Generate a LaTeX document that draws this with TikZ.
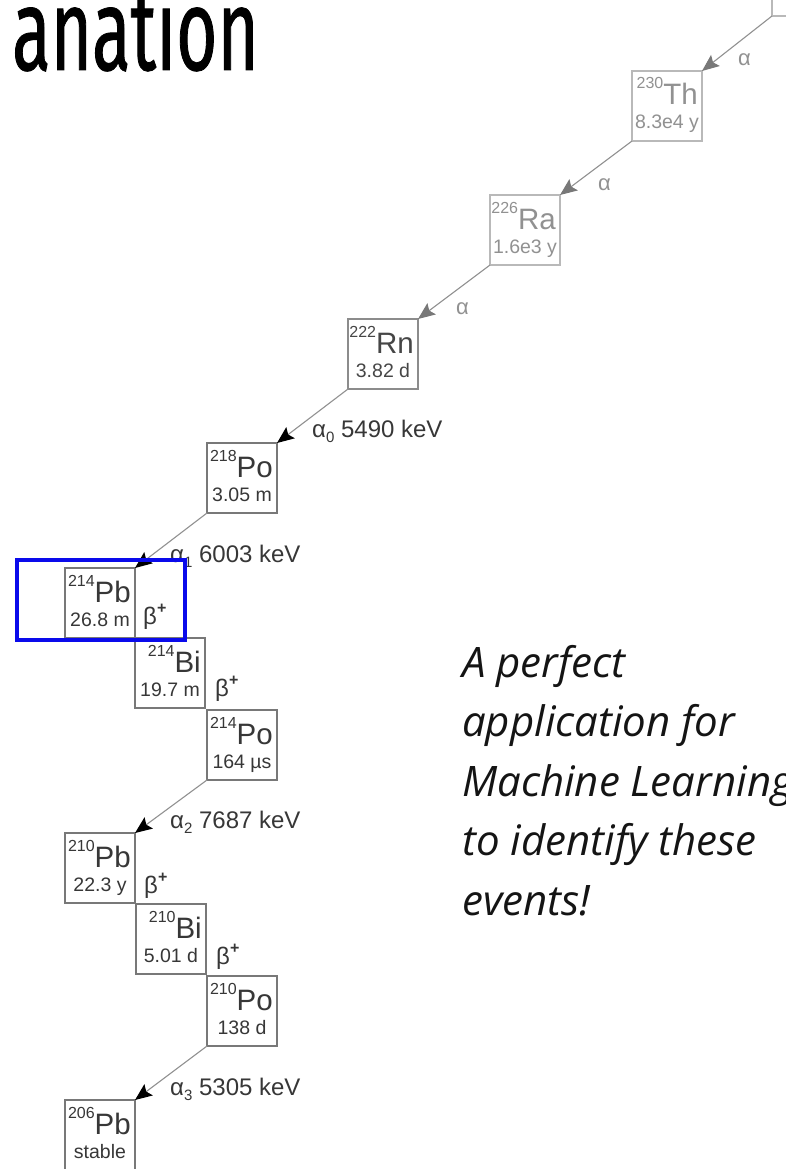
\documentclass[tikz,border=0pt]{standalone}
\usepackage{fontspec}
\usepackage{graphicx}
\setmainfont{Liberation Sans}
\newfontfamily\titlefont[FakeStretch=0.61,FakeBold=0.7]{Fira Sans}
\newfontfamily\notefont{Open Sans}
\usetikzlibrary{arrows.meta,calc}
\definecolor{fadebox}{RGB}{185,185,185}
\definecolor{fadetext}{RGB}{145,145,145}
\definecolor{fadehead}{RGB}{120,120,120}
\definecolor{midbox}{RGB}{140,140,140}
\definecolor{midtext}{RGB}{70,70,70}
\definecolor{normbox}{RGB}{120,120,120}
\definecolor{normtext}{RGB}{55,55,55}
\definecolor{linegray}{RGB}{145,145,145}
\definecolor{hlblue}{RGB}{10,10,235}
\tikzset{
  nucbox/.style={line width=1.3pt, minimum width=70pt, minimum height=70pt,
    inner sep=0pt, outer sep=0pt, anchor=north west},
  fadebox/.style={draw=fadebox},
  midbox/.style={draw=midbox},
  normbox/.style={draw=normbox},
  fadetext/.style={text=fadetext},
  midtext/.style={text=midtext},
  normtext/.style={text=normtext},
  symtext/.style={inner sep=0pt, font=\fontsize{29.5}{29.5}\selectfont},
  halftext/.style={inner sep=0pt, font=\fontsize{19.5}{19.5}\selectfont},
  decay/.style={draw=linegray, line width=1.1pt},
  fadearrow/.style={decay, -{Stealth[length=17pt,width=14pt,inset=3pt,color=fadehead]}},
  normarrow/.style={decay, -{Stealth[length=17pt,width=14pt,inset=3pt,color=black]}},
  alabel/.style={inner sep=0pt, font=\fontsize{24}{24}\selectfont, text=normtext, anchor=base west},
  falabel/.style={inner sep=0pt, font=\fontsize{22}{22}\selectfont, text=fadetext, anchor=base west},
  blabel/.style={inner sep=0pt, font=\fontsize{24}{24}\selectfont, text=normtext, anchor=base west},
  notetext/.style={inner sep=0pt, font=\notefont\itshape\fontsize{42}{59.5}\selectfont,
    align=left, text=black!92, anchor=base west},
  titletext/.style={inner sep=0pt, font=\titlefont\fontsize{116}{116}\selectfont, text=black, anchor=base west},
  highlight/.style={draw=hlblue, line width=3.5pt, minimum width=168pt, minimum height=80pt,
    inner sep=0pt, outer sep=0pt, anchor=north west}
}
\newcommand\nuc[7]{%
  \node[nucbox,#7box] (#1) at (#2,#3) {};
  \node[symtext,#7text,anchor=base east] (#1-sym) at ($(#1.north east)+(-4,34)$)
    {\raisebox{16pt}{\fontsize{16}{16}\selectfont #4}#5};
  \node[halftext,#7text,anchor=base] (#1-half) at ($(#1.north)+(0,58)$) {#6};
}
\newcommand\sub[1]{\raisebox{-5pt}{\fontsize{15}{15}\selectfont #1}}
\newcommand\bplus{β\raisebox{11pt}{\fontsize{16}{16}\selectfont\bfseries +}}
\begin{document}
\begin{tikzpicture}[x=1pt,y=-1pt]
\useasboundingbox[fill=white] (0,0) rectangle (786,1169);
% title
\node[titletext] (title) at (12,70) {anation};
% nuclides
\node[nucbox,fadebox] (u234) at (772,-54) {};
\nuc{th230}{632}{71}{230}{Th}{8.3e4 y}{fade}
\nuc{ra226}{490}{195}{226}{Ra}{1.6e3 y}{fade}
\nuc{rn222}{348}{319}{222}{Rn}{3.82 d}{mid}
\nuc{po218}{207}{443}{218}{Po}{3.05 m}{norm}
\nuc{pb214}{65}{568}{214}{Pb}{26.8 m}{norm}
\nuc{bi214}{135}{638}{214}{Bi}{19.7 m}{norm}
\nuc{po214}{207}{710}{214}{Po}{164 µs}{norm}
\nuc{pb210}{65}{833}{210}{Pb}{22.3 y}{norm}
\nuc{bi210}{136}{904}{210}{Bi}{5.01 d}{norm}
\nuc{po210}{207}{976}{210}{Po}{138 d}{norm}
\nuc{pb206}{65}{1100}{206}{Pb}{stable}{norm}
% alpha decays
\draw[fadearrow] (u234.south west) -- (th230.north east);
\draw[fadearrow] (th230.south west) -- (ra226.north east);
\draw[fadearrow] (ra226.south west) -- (rn222.north east);
\draw[normarrow] (rn222.south west) -- (po218.north east);
\draw[normarrow] (po218.south west) -- (pb214.north east);
\draw[normarrow] (po214.south west) -- (pb210.north east);
\draw[normarrow] (po210.south west) -- (pb206.north east);
% alpha labels
\node[falabel] (lth) at ($(th230.north east)+(36,-5)$) {α};
\node[falabel] (lra) at ($(ra226.north east)+(38,-5)$) {α};
\node[falabel] (lrn) at ($(rn222.north east)+(38,-5)$) {α};
\node[alabel] (la0) at ($(po218.north east)+(35,-6)$) {α\sub{0} 5490 keV};
\node[alabel] (la1) at ($(pb214.north east)+(35,-6)$) {α\sub{1} 6003 keV};
\node[alabel] (la2) at ($(pb210.north east)+(35,-5)$) {α\sub{2} 7687 keV};
\node[alabel] (la3) at ($(pb206.north east)+(35,-5)$) {α\sub{3} 5305 keV};
% beta labels
\node[blabel] (lb1) at ($(pb214.south east)+(8,-14)$) {\bplus};
\node[blabel] (lb2) at ($(bi214.south east)+(10,-12)$) {\bplus};
\node[blabel] (lb3) at ($(pb210.south east)+(9,-10)$) {\bplus};
\node[blabel] (lb4) at ($(bi210.south east)+(10,-10)$) {\bplus};
% note
\node[notetext] (note) at (462,915) {A perfect\\application for\\Machine Learning\\to identify these\\events!};
% highlight
\node[highlight] (hl) at (17,560) {};
\end{tikzpicture}
\end{document}
